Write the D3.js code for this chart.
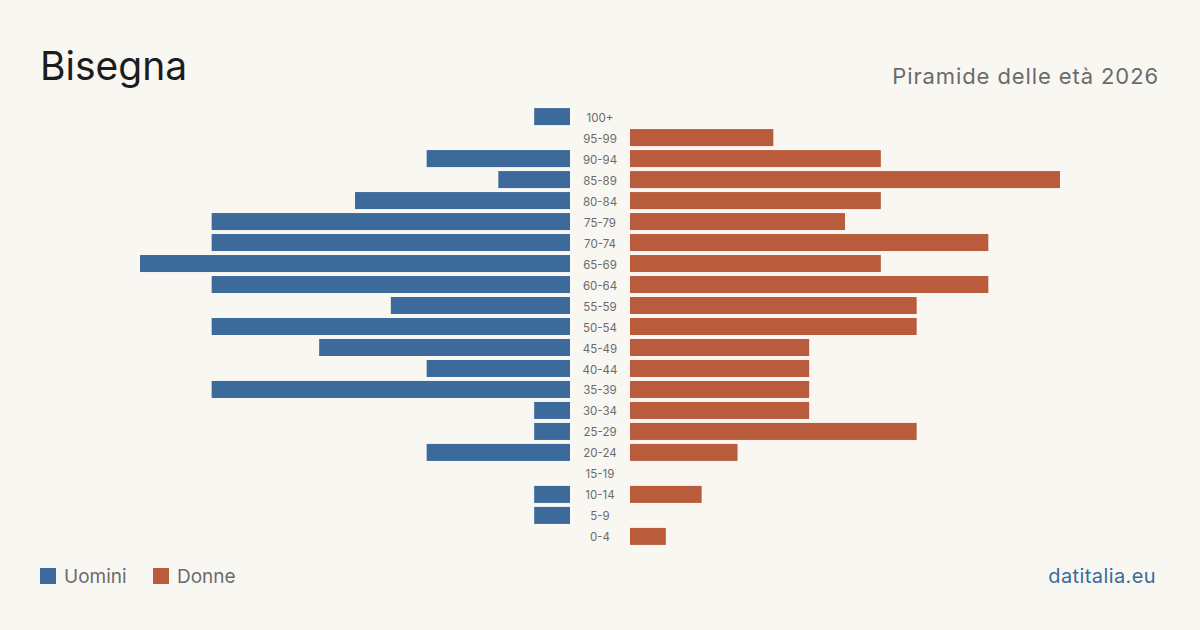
<!DOCTYPE html>
<html>
<head>
<meta charset="utf-8">
<script src="https://cdn.jsdelivr.net/npm/d3@7"></script>
<style>
  body { margin: 0; background: #f9f7f2; }
  svg { display: block; font-family: Inter, "Noto Sans", sans-serif; }
</style>
</head>
<body>
<svg id="chart" width="1200" height="630"></svg>
<script>
// age classes, top to bottom
const ages = ['100+', '95-99', '90-94', '85-89', '80-84', '75-79', '70-74', '65-69',
  '60-64', '55-59', '50-54', '45-49', '40-44', '35-39', '30-34', '25-29',
  '20-24', '15-19', '10-14', '5-9', '0-4']
// residents per class
const men = [1, 0, 4, 2, 6, 10, 10, 12, 10, 5, 10, 7, 4, 10, 1, 1, 4, 0, 1, 1, 0]
const women = [0, 4, 7, 12, 7, 6, 10, 7, 10, 8, 8, 5, 5, 5, 5, 8, 3, 0, 2, 0, 1]

const blue = '#3b6a9b'
const red = '#b95c3c'

function makePyramid() {
  const svg = d3.select('#chart')
  const center = 600
  const gap = 30

  const maxVal = d3.max([...men, ...women])

  // vertical band for each age class
  const y = d3.scaleBand()
    .domain(ages)
    .range([106, 547])
    .paddingInner(0.19)
    .paddingOuter(0.1)

  // same length scale on both sides
  const len = d3.scaleLinear()
    .domain([0, maxVal])
    .range([0, 430])

  svg.append('text')
    .attr('x', 40).attr('y', 80)
    .attr('font-size', 39)
    .attr('fill', '#1c1c1c')
    .text('Bisegna')

  svg.append('text')
    .attr('x', 1159).attr('y', 84)
    .attr('text-anchor', 'end')
    .attr('font-size', 22)
    .attr('letter-spacing', 0.9)
    .attr('fill', '#6b6b6b')
    .text('Piramide delle età 2026')

  // men bars grow to the left
  svg.append('g').selectAll('rect')
    .data(men)
    .join('rect')
    .attr('x', d => center - gap - len(d))
    .attr('y', (d, i) => y(ages[i]))
    .attr('width', d => len(d))
    .attr('height', y.bandwidth())
    .attr('fill', blue)

  // women bars grow to the right
  svg.append('g').selectAll('rect')
    .data(women)
    .join('rect')
    .attr('x', center + gap)
    .attr('y', (d, i) => y(ages[i]))
    .attr('width', d => len(d))
    .attr('height', y.bandwidth())
    .attr('fill', red)

  // age labels in the middle
  svg.append('g').selectAll('text')
    .data(ages)
    .join('text')
    .attr('x', center)
    .attr('y', d => y(d) + y.bandwidth() / 2 + 1)
    .attr('dy', '0.35em')
    .attr('text-anchor', 'middle')
    .attr('font-size', 11.5)
    .attr('fill', '#6b6b6b')
    .text(d => d)

  // legend
  const legend = [['Uomini', blue, 40], ['Donne', red, 153]]
  legend.forEach(([label, color, x]) => {
    svg.append('rect')
      .attr('x', x).attr('y', 568)
      .attr('width', 16).attr('height', 16)
      .attr('fill', color)
    svg.append('text')
      .attr('x', x + 24).attr('y', 583)
      .attr('font-size', 19)
      .attr('fill', '#6b6b6b')
      .text(label)
  })

  svg.append('text')
    .attr('x', 1156).attr('y', 583)
    .attr('text-anchor', 'end')
    .attr('font-size', 20)
    .attr('letter-spacing', 0.4)
    .attr('fill', blue)
    .text('datitalia.eu')
}

window.onload = makePyramid
</script>
</body>
</html>
